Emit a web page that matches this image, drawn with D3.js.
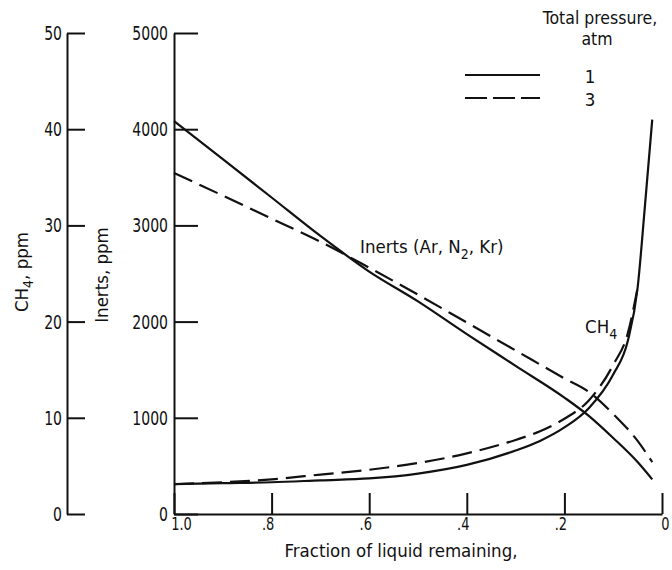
<!DOCTYPE html>
<html>
<head>
<meta charset="utf-8">
<script src="https://cdn.jsdelivr.net/npm/d3@7"></script>
<style>
  body { margin: 0; background: #fff; }
  svg { display: block; }
  .txt { font-family: "DejaVu Sans Condensed", "DejaVu Sans"; font-stretch: condensed; font-size: 18.5px; fill: #111; }
  .tick text { font-family: "DejaVu Sans Condensed", "DejaVu Sans"; font-stretch: condensed; font-size: 20px; fill: #111; }
  .xax .tick text { font-size: 18.5px; }
</style>
</head>
<body>
<svg id="chart"></svg>
<script>
const width = 672, height = 570;

// fraction of liquid remaining
const fracInert = [1.0, 0.9, 0.8, 0.7, 0.6, 0.5, 0.4, 0.3, 0.2, 0.15, 0.1, 0.05, 0.02];
const inerts1atm = [4085, 3690, 3290, 2890, 2520, 2210, 1870, 1540, 1210, 1020, 790, 540, 360];
const inerts3atm = [3545, 3310, 3070, 2830, 2560, 2280, 1990, 1700, 1410, 1270, 1040, 760, 540];

const fracCh4a = [1.0, 0.9, 0.8, 0.7, 0.6, 0.5, 0.4, 0.3, 0.25, 0.2, 0.15, 0.1, 0.07, 0.05, 0.035, 0.02];
const ch4_1atm = [3.1, 3.2, 3.3, 3.5, 3.7, 4.2, 5.1, 6.6, 7.6, 9.0, 11.0, 14.5, 18.0, 23.5, 32.0, 41.0];
const fracCh4b = [1.0, 0.9, 0.8, 0.7, 0.6, 0.5, 0.4, 0.3, 0.25, 0.2, 0.15, 0.1, 0.07, 0.05];
const ch4_3atm = [3.1, 3.3, 3.6, 4.1, 4.6, 5.3, 6.3, 7.7, 8.6, 9.9, 11.8, 15.5, 18.8, 23.5];

const xTicks = [1.0, 0.8, 0.6, 0.4, 0.2, 0];
const xTickLabels = ["1.0", ".8", ".6", ".4", ".2", "0"];
const ch4Ticks = [0, 10, 20, 30, 40, 50];
const inertTicks = [0, 1000, 2000, 3000, 4000, 5000];

const svg = d3.select("#chart").attr("width", width).attr("height", height);
svg.append("rect").attr("width", width).attr("height", height).attr("fill", "#fff");

const x = d3.scaleLinear().domain([1, 0]).range([174, 662]);
const yIn = d3.scaleLinear().domain([0, 5000]).range([514, 33]);
const yCh = d3.scaleLinear().domain([0, 50]).range([514, 33]);

// lettering in the original is tall and narrow, so squeeze the tick numbers
function styleAxis(g) {
  g.select(".domain").attr("stroke", "#111").attr("stroke-width", 2);
  g.selectAll(".tick line").attr("stroke", "#111").attr("stroke-width", 2);
  g.attr("font-family", null).attr("font-size", null);
  g.selectAll(".tick text").each(function () {
    const w = this.getComputedTextLength();
    d3.select(this).attr("textLength", w * 0.78).attr("lengthAdjust", "spacingAndGlyphs");
  });
}

// CH4 axis
svg.append("g")
  .attr("transform", "translate(67,0)")
  .call(d3.axisLeft(yCh).tickValues(ch4Ticks).tickFormat(d3.format("d"))
    .tickSizeInner(-18).tickSizeOuter(0).tickPadding(5))
  .call(styleAxis);

// inerts axis
svg.append("g")
  .attr("transform", "translate(174,0)")
  .call(d3.axisLeft(yIn).tickValues(inertTicks).tickFormat(d3.format("d"))
    .tickSizeInner(-24).tickSizeOuter(0).tickPadding(6))
  .call(styleAxis);

// x axis
const xg = svg.append("g")
  .attr("class", "xax")
  .attr("transform", "translate(0,514)")
  .call(d3.axisBottom(x).tickValues(xTicks).tickFormat((d, i) => xTickLabels[i])
    .tickSizeInner(-21).tickSizeOuter(0).tickPadding(3))
  .call(styleAxis);
xg.selectAll(".tick text").attr("dx", (d, i) => i === 0 ? 7 : (i === 5 ? 3 : -4));

// curves
const lineIn = d3.line().x(d => x(d[0])).y(d => yIn(d[1])).curve(d3.curveMonotoneX);
const lineCh = d3.line().x(d => x(d[0])).y(d => yCh(d[1])).curve(d3.curveMonotoneX);

const curves = [
  { d: lineIn(d3.zip(fracInert, inerts1atm)), dash: null },
  { d: lineIn(d3.zip(fracInert, inerts3atm)), dash: "20,8" },
  { d: lineCh(d3.zip(fracCh4a, ch4_1atm)), dash: null },
  { d: lineCh(d3.zip(fracCh4b, ch4_3atm)), dash: "20,8" }
];
svg.selectAll(".curve").data(curves).join("path")
  .attr("class", "curve")
  .attr("d", c => c.d)
  .attr("fill", "none")
  .attr("stroke", "#111")
  .attr("stroke-width", 2.2)
  .attr("stroke-dasharray", c => c.dash);

// axis titles
const t1 = svg.append("text").attr("class", "txt")
  .attr("transform", "translate(28,272) rotate(-90)").attr("text-anchor", "middle");
t1.append("tspan").text("CH");
t1.append("tspan").text("4").attr("font-size", "14px").attr("dy", 5);
t1.append("tspan").text(", ppm").attr("dy", -5);

svg.append("text").attr("class", "txt")
  .attr("transform", "translate(108,275) rotate(-90)").attr("text-anchor", "middle")
  .text("Inerts, ppm");

svg.append("text").attr("class", "txt")
  .attr("x", 401).attr("y", 557).attr("text-anchor", "middle")
  .text("Fraction of liquid remaining,");

// curve labels
const t2 = svg.append("text").attr("class", "txt").attr("x", 360).attr("y", 253);
t2.append("tspan").text("Inerts (Ar, N");
t2.append("tspan").text("2").attr("font-size", "14px").attr("dy", 6);
t2.append("tspan").text(", Kr)").attr("dy", -6);

const t3 = svg.append("text").attr("class", "txt").attr("x", 585).attr("y", 333);
t3.append("tspan").text("CH");
t3.append("tspan").text("4").attr("font-size", "14px").attr("dy", 6);

// legend
svg.append("text").attr("class", "txt").attr("x", 600).attr("y", 24)
  .attr("text-anchor", "middle").style("font-size", "17.5px").text("Total pressure,");
svg.append("text").attr("class", "txt").attr("x", 597).attr("y", 45)
  .attr("text-anchor", "middle").style("font-size", "17.5px").text("atm");

const legendItems = [
  { label: "1", dash: null, y: 75 },
  { label: "3", dash: "22,6", y: 98 }
];
const lg = svg.selectAll(".leg").data(legendItems).join("g").attr("class", "leg");
lg.append("line")
  .attr("x1", 465).attr("x2", 540).attr("y1", d => d.y).attr("y2", d => d.y)
  .attr("stroke", "#111").attr("stroke-width", 2.2)
  .attr("stroke-dasharray", d => d.dash);
lg.append("text").attr("class", "txt")
  .attr("x", 590).attr("y", d => d.y + 8).attr("text-anchor", "middle")
  .text(d => d.label);
</script>
</body>
</html>
